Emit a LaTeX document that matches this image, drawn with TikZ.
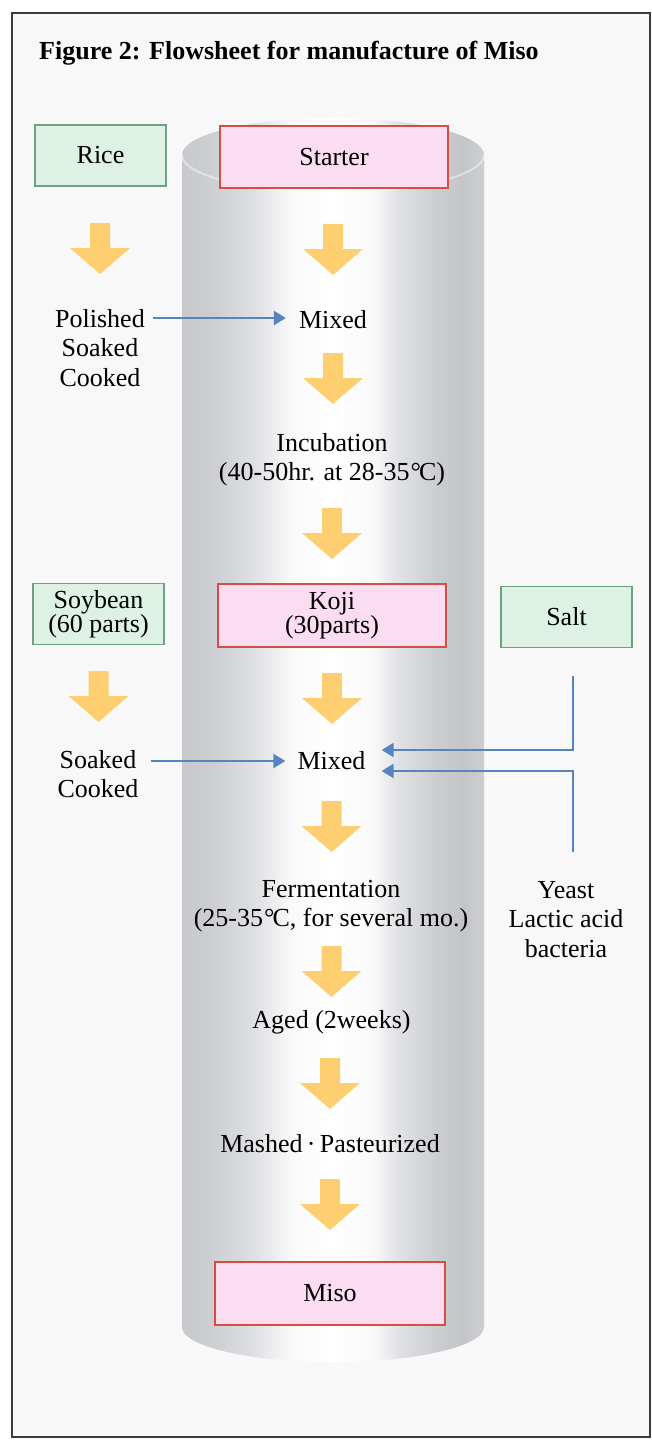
\documentclass[tikz,border=0pt]{standalone}
\usepackage{fontspec}
\setmainfont{Liberation Serif}
\usetikzlibrary{arrows.meta}
\definecolor{bgc}{RGB}{248,248,249}
\definecolor{framec}{RGB}{60,60,62}
\definecolor{greenfill}{RGB}{221,241,229}
\definecolor{greenline}{RGB}{110,160,132}
\definecolor{pinkfill}{RGB}{251,220,240}
\definecolor{pinkline}{RGB}{212,78,70}
\definecolor{yel}{RGB}{253,207,112}
\definecolor{bluel}{RGB}{86,132,192}
\definecolor{cA}{RGB}{200,201,204}
\definecolor{cB}{RGB}{205,206,209}
\definecolor{cC}{RGB}{222,223,226}
\definecolor{cD}{RGB}{249,249,250}
\definecolor{cE}{RGB}{225,226,229}
\definecolor{cF}{RGB}{203,204,207}
\definecolor{cG}{RGB}{196,197,201}
\pgfdeclarehorizontalshading{cylshade}{100bp}{color(0bp)=(cA); color(25bp)=(cA); color(30bp)=(cB); color(36.75bp)=(cC); color(43bp)=(cD); color(50bp)=(white); color(56.5bp)=(cD); color(60.75bp)=(cE); color(67.5bp)=(cF); color(71.5bp)=(cG); color(75bp)=(cB); color(100bp)=(cB)}
\tikzset{
  lbl/.style={font=\fontsize{26}{29.5}\selectfont, align=center, inner sep=0pt},
  boxtxt/.style={font=\fontsize{26}{24.5}\selectfont, align=center, inner sep=0pt},
  greenbox/.style={boxtxt, draw=greenline, fill=greenfill, line width=1.3pt, minimum width=131pt, minimum height=61pt},
  pinkbox/.style={boxtxt, draw=pinkline, fill=pinkfill, line width=1.3pt, minimum width=228pt, minimum height=62pt},
  bline/.style={draw=bluel, line width=2.2pt, -{Triangle[length=12pt,width=14pt]}},
  yarrow/.pic={\fill[yel] (-10,0) -- (10,0) -- (10,25) -- (30,25) -- (0,51) -- (-30,25) -- (-10,25) -- cycle;}
}
\begin{document}
\begin{tikzpicture}[x=1pt,y=-1pt]
\useasboundingbox (0,0) rectangle (651,1440);
\fill[white] (0,0) rectangle (651,1440);
\fill[bgc] (12,13) rectangle (650,1437);
\draw[framec, line width=1.5pt] (12,13) rectangle (650,1437);
% cylinder
\shade[shading=cylshade] (182,155) arc[start angle=180, end angle=0, x radius=151pt, y radius=37pt] -- (484,1327) arc[start angle=0, end angle=-180, x radius=151pt, y radius=35pt] -- cycle;
\draw[white, line width=2pt, opacity=0.45] (182,155) arc[start angle=180, end angle=360, x radius=151pt, y radius=37pt];
% title
\node[anchor=base west, inner sep=0pt, font=\bfseries\fontsize{26}{30}\selectfont] (title) at (39,59) {Figure 2: Flowsheet for manufacture of Miso};
% boxes
\node[greenbox] (rice) at (100.5,155.5) {Rice};
\node[pinkbox] (starter) at (334,157) {Starter};
\node[greenbox] (soybean) at (98.5,614) {Soybean\\(60 parts)};
\node[pinkbox, minimum height=63pt] (koji) at (332,615.5) {Koji\\(30parts)};
\node[greenbox] (salt) at (566.5,617) {Salt};
\node[pinkbox, minimum width=230pt, minimum height=63pt] (miso) at (330,1293.5) {Miso};
% texts
\node[lbl, anchor=north] (polished) at (100,309.2) {Polished\\Soaked\\Cooked};
\node[lbl, anchor=base] (mixed1) at (333,328) {Mixed};
\node[lbl, anchor=north] (incub) at (332,433.2) {Incubation\\(40-50hr. at 28-35\kern1pt°\kern-2pt C)};
\node[lbl, anchor=north] (soaked) at (98,750.2) {Soaked\\Cooked};
\node[lbl, anchor=base] (mixed2) at (331.5,769) {Mixed};
\node[lbl, anchor=north] (yeast) at (566,880.8) {Yeast\\Lactic acid\\bacteria};
\node[lbl, anchor=north] (ferm) at (331,879.8) {Fermentation\\(25-35\kern1pt°\kern-2pt C, for several mo.)};
\node[lbl, anchor=base] (aged) at (331.5,1028) {Aged (2weeks)};
\node[lbl, anchor=base] (mashed) at (330,1152) {Mashed\,·\,Pasteurized};
% yellow flow arrows
\pic at (100,223) {yarrow};
\pic at (333,224) {yarrow};
\pic at (333,353) {yarrow};
\pic at (332,508) {yarrow};
\pic at (98.5,671) {yarrow};
\pic at (332,673) {yarrow};
\pic at (331.5,801) {yarrow};
\pic at (331.5,946) {yarrow};
\pic at (330,1058) {yarrow};
\pic at (330,1179) {yarrow};
% blue connectors
\coordinate (pstart) at (153,318);
\draw[bline, shorten >=13pt] (pstart) -- (pstart -| mixed1.west);
\coordinate (sstart) at (151,761);
\draw[bline, shorten >=12pt] (sstart) -- (sstart -| mixed2.west);
\coordinate (saltpt) at (573,676);
\draw[bline, shorten >=16pt] (saltpt) |- (mixed2.east |- 0,750);
\coordinate (yeastpt) at (573,852);
\draw[bline, shorten >=16pt] (yeastpt) |- (mixed2.east |- 0,771);
\end{tikzpicture}
\end{document}
